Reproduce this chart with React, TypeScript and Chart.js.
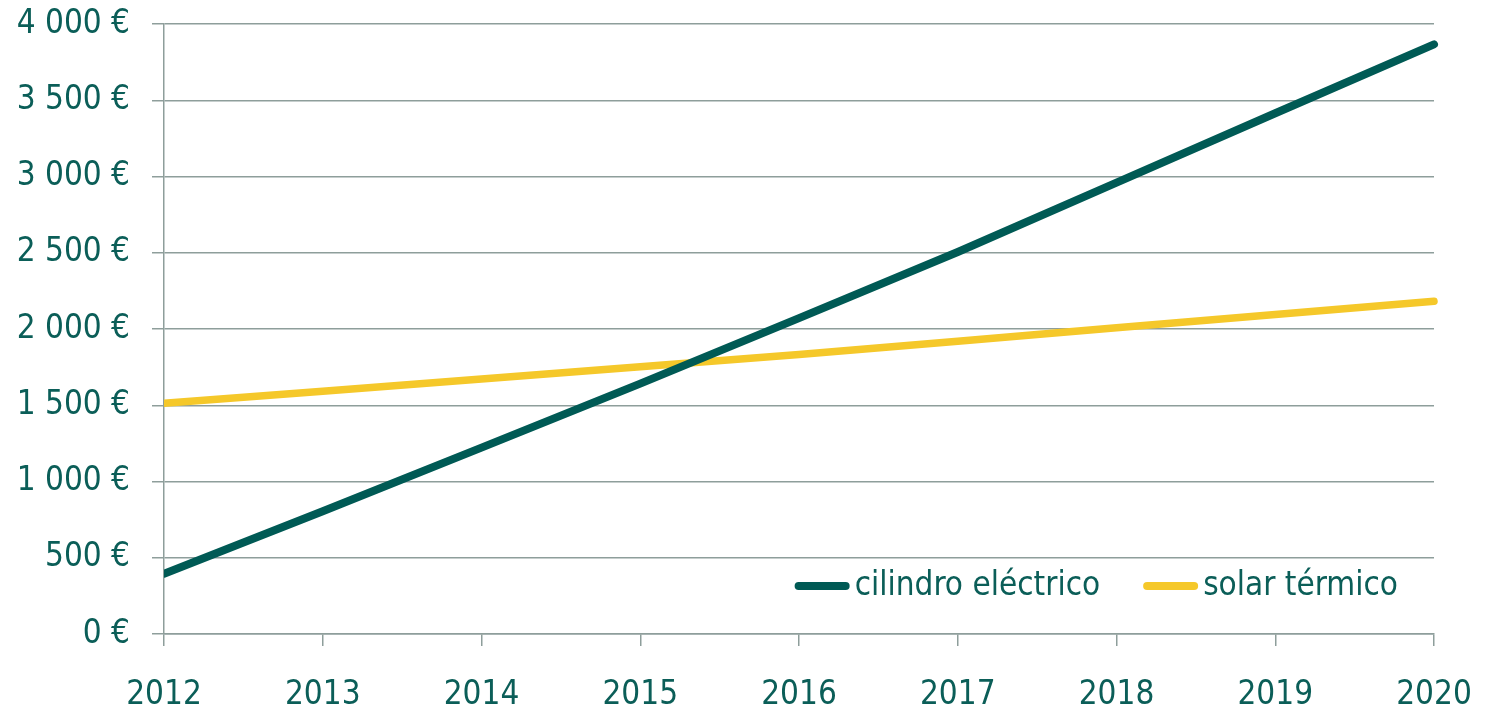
import React, { useEffect, useRef } from "react";
import { Chart, registerables } from "chart.js";

Chart.register(...registerables);

const years: string[] = ["2012", "2013", "2014", "2015", "2016", "2017", "2018", "2019", "2020"];
const cilindroElectrico: number[] = [395, 805, 1222, 1642, 2071, 2505, 2960, 3415, 3866];
const solarTermico: number[] = [1513, 1592, 1672, 1753, 1833, 1920, 2008, 2095, 2182];
const seriesNames: string[] = ["cilindro eléctrico", "solar térmico"];
const seriesColors: string[] = ["#005A55", "#F5C82A"];

const TEXT_COLOR = "#0B5E58";
const GRID_COLOR = "#8E9E9B";
const FONT_FAMILY = "'DejaVu Sans Condensed', 'Liberation Sans Narrow', 'DejaVu Sans', sans-serif";
const FONT_SIZE = 33;
const LINE_WIDTH = 8;

const formatEuro = (v: number): string => {
  const s = Math.round(v).toString().replace(/\B(?=(\d{3})+(?!\d))/g, " ");
  return `${s} €`;
};

const inlineLegend = {
  id: "inlineLegend",
  afterDraw(chart: any) {
    const { ctx, chartArea } = chart;
    ctx.save();
    ctx.font = `${FONT_SIZE}px ${FONT_FAMILY}`;
    const lineLen = 55;
    const textGap = 60;
    const itemGap = 43;
    const widths = seriesNames.map((n) => ctx.measureText(n).width);
    const total = widths.reduce((a, w) => a + textGap + w, 0) + itemGap * (seriesNames.length - 1);
    let x = chartArea.right - 36 - total;
    const y = chartArea.bottom - 48;
    seriesNames.forEach((name, i) => {
      ctx.strokeStyle = seriesColors[i];
      ctx.lineWidth = LINE_WIDTH;
      ctx.lineCap = "round";
      ctx.beginPath();
      ctx.moveTo(x + LINE_WIDTH / 2, y);
      ctx.lineTo(x + lineLen - LINE_WIDTH / 2, y);
      ctx.stroke();
      ctx.fillStyle = TEXT_COLOR;
      ctx.textBaseline = "middle";
      ctx.textAlign = "left";
      ctx.fillText(name, x + textGap, y);
      x += textGap + widths[i] + itemGap;
    });
    ctx.restore();
  },
};

export default function App() {
  const canvasRef = useRef<HTMLCanvasElement | null>(null);

  useEffect(() => {
    document.body.style.margin = "0";
    const canvas = canvasRef.current;
    if (!canvas) return;
    const clipBox = { left: 0, top: 10, right: 6, bottom: 10 };
    const chart = new Chart(canvas, {
      type: "line",
      data: {
        labels: years,
        datasets: [
          {
            label: seriesNames[0],
            data: cilindroElectrico,
            borderColor: seriesColors[0],
            backgroundColor: seriesColors[0],
            borderWidth: LINE_WIDTH,
            borderCapStyle: "round",
            pointRadius: 0,
            tension: 0,
            clip: clipBox as any,
          },
          {
            label: seriesNames[1],
            data: solarTermico,
            borderColor: seriesColors[1],
            backgroundColor: seriesColors[1],
            borderWidth: LINE_WIDTH - 0.5,
            borderCapStyle: "round",
            pointRadius: 0,
            tension: 0,
            clip: clipBox as any,
          },
        ],
      },
      options: {
        animation: false,
        responsive: false,
        maintainAspectRatio: false,
        layout: { padding: { left: 0, right: 56, top: 24, bottom: 0 } },
        plugins: {
          legend: { display: false },
          tooltip: { enabled: false },
        },
        scales: {
          x: {
            type: "category",
            offset: false,
            grid: {
              display: true,
              drawOnChartArea: false,
              drawTicks: true,
              tickLength: 12,
              color: GRID_COLOR,
              lineWidth: 1.5,
            },
            border: { display: true, color: GRID_COLOR, width: 1.5 },
            ticks: {
              color: TEXT_COLOR,
              font: { family: FONT_FAMILY, size: FONT_SIZE },
              padding: 30,
              maxRotation: 0,
              autoSkip: false,
            },
            afterFit(scale: any) {
              scale.height = 76;
              scale.paddingLeft = 0;
              scale.paddingRight = 0;
            },
          },
          y: {
            min: 0,
            max: 4000,
            grid: {
              display: true,
              drawOnChartArea: true,
              drawTicks: true,
              tickLength: 12,
              color: GRID_COLOR,
              lineWidth: 1.5,
            },
            border: { display: true, color: GRID_COLOR, width: 1.5 },
            ticks: {
              stepSize: 500,
              color: TEXT_COLOR,
              font: { family: FONT_FAMILY, size: FONT_SIZE },
              padding: 22,
              callback: (v: any) => formatEuro(Number(v)),
            },
            afterFit(scale: any) {
              scale.width = 164;
              scale.paddingTop = 0;
              scale.paddingBottom = 0;
            },
          },
        },
      },
      plugins: [inlineLegend],
    });
    return () => chart.destroy();
  }, []);

  return (
    <div style={{ position: "fixed", left: 0, top: 0, width: 1490, height: 710, background: "#fff" }}>
      <canvas ref={canvasRef} width={1490} height={710} style={{ width: 1490, height: 710 }} />
    </div>
  );
}
